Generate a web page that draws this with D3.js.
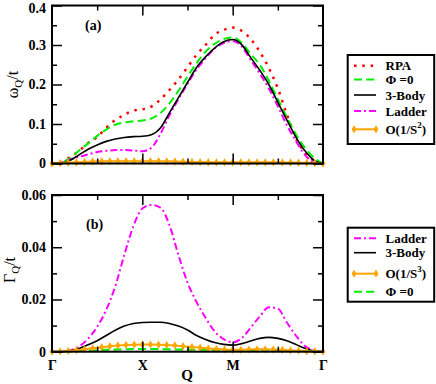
<!DOCTYPE html>
<html>
<head>
<meta charset="utf-8">
<script src="https://cdn.jsdelivr.net/npm/d3@7"></script>
<style>
  body { margin: 0; background: #fff; }
  svg text { font-family: "Liberation Serif", "Times New Roman", Times, serif; }
</style>
</head>
<body>
<div id="plot"></div>
<script>
// ---- data ----
const qGrid = [0, 0.1, 0.2, 0.3, 0.4, 0.5, 0.6, 0.7, 0.8, 0.9, 1.0, 1.1, 1.2, 1.3, 1.4, 1.5,
  1.6, 1.7, 1.8, 1.9, 2.0, 2.1, 2.2, 2.3, 2.4, 2.5, 2.6, 2.7, 2.8, 2.9, 3.0];
const qMarks = [0, 0.09, 0.18, 0.27, 0.36, 0.45, 0.55, 0.64, 0.73, 0.82, 0.91, 1.0, 1.09, 1.18,
  1.27, 1.36, 1.45, 1.55, 1.64, 1.73, 1.82, 1.91, 2.0, 2.09, 2.18, 2.27, 2.36, 2.45, 2.55, 2.64,
  2.73, 2.82, 2.91, 3.0];

// panel (a): omega_Q / t
const rpaA = [0, 0.003, 0.016, 0.032, 0.052, 0.067, 0.090, 0.110, 0.123, 0.134, 0.137, 0.144,
  0.162, 0.186, 0.213, 0.244, 0.275, 0.300, 0.326, 0.338, 0.344, 0.336, 0.315, 0.283, 0.242,
  0.190, 0.124, 0.064, 0.028, 0.008, 0];
const phiA = [0, 0.002, 0.014, 0.033, 0.051, 0.070, 0.086, 0.098, 0.104, 0.107, 0.109, 0.114,
  0.128, 0.152, 0.184, 0.220, 0.254, 0.283, 0.303, 0.315, 0.319, 0.306, 0.277, 0.250, 0.210,
  0.163, 0.117, 0.074, 0.040, 0.015, 0];
const bodyA = [0, 0.000, 0.008, 0.022, 0.036, 0.047, 0.056, 0.062, 0.066, 0.068, 0.069, 0.073,
  0.090, 0.128, 0.167, 0.205, 0.243, 0.270, 0.292, 0.308, 0.314, 0.301, 0.268, 0.236, 0.200,
  0.155, 0.110, 0.067, 0.032, 0.008, 0];
const ladderA = [0, 0.002, 0.010, 0.017, 0.023, 0.029, 0.032, 0.034, 0.034, 0.033, 0.031, 0.040,
  0.075, 0.122, 0.163, 0.202, 0.238, 0.266, 0.291, 0.305, 0.310, 0.296, 0.262, 0.228, 0.190,
  0.145, 0.097, 0.057, 0.022, 0.003, 0];
const s2A = [0, 0.001, 0.002, 0.003, 0.004, 0.005, 0.0055, 0.006, 0.006, 0.006, 0.006, 0.006,
  0.006, 0.0058, 0.0055, 0.005, 0.0045, 0.004, 0.0035, 0.0032, 0.003, 0.003, 0.003, 0.003,
  0.003, 0.003, 0.003, 0.003, 0.0028, 0.0025, 0.002, 0.0015, 0.0008, 0];

// panel (b): Gamma_Q / t
const ladderB = [0, 0, 0.0005, 0.002, 0.005, 0.0095, 0.016, 0.025, 0.037, 0.048, 0.0548, 0.0562,
  0.0552, 0.0485, 0.037, 0.0265, 0.019, 0.013, 0.0078, 0.0048, 0.0036, 0.0052, 0.0092, 0.0135,
  0.0170, 0.0165, 0.0112, 0.0062, 0.0022, 0.0005, 0];
const bodyB = [0, 0, 0.0003, 0.0012, 0.0027, 0.0042, 0.0062, 0.0082, 0.0098, 0.0108, 0.0112,
  0.0113, 0.0113, 0.0108, 0.0098, 0.0083, 0.0062, 0.0047, 0.0035, 0.0028, 0.0025, 0.0031,
  0.0041, 0.0051, 0.0055, 0.0051, 0.0042, 0.0028, 0.0013, 0.0003, 0];
const phiB = [0, 0, 0.0001, 0.0002, 0.0004, 0.0006, 0.0007, 0.0008, 0.0009, 0.001, 0.001, 0.001,
  0.001, 0.0009, 0.0008, 0.0008, 0.0007, 0.0007, 0.0006, 0.0006, 0.0006, 0.0006, 0.0006,
  0.0006, 0.0006, 0.0005, 0.0004, 0.0003, 0.0002, 0.0001, 0];
const s3B = [0, 0.0001, 0.0003, 0.0006, 0.0009, 0.0013, 0.0017, 0.0021, 0.0024, 0.0026, 0.0027,
  0.0028, 0.0028, 0.0027, 0.0026, 0.0024, 0.0021, 0.0018, 0.0015, 0.0012, 0.001, 0.0008,
  0.0007, 0.0007, 0.0008, 0.0009, 0.0009, 0.0008, 0.0007, 0.0005, 0.0004, 0.0002, 0.0001, 0];

// axis ticks and labels
const xMajor = [0, 1, 2, 3];
const xMinor = [0.5, 1.5, 2.5];
const xLabels = ["\u0393", "X", "M", "\u0393"];
const yTicksA = [0, 0.1, 0.2, 0.3, 0.4];
const yMinorA = [0.05, 0.15, 0.25, 0.35];
const yTicksB = [0, 0.02, 0.04, 0.06];
const yMinorB = [0.01, 0.03, 0.05];

// ---- styles ----
const serif = "Liberation Serif, Times New Roman, Times, serif";
const styles = {
  rpa:    { color: "#ff0000", width: 2.5, dash: "2.5,5.8" },
  phi:    { color: "#00ee00", width: 2, dash: "8,4.3" },
  body:   { color: "#000000", width: 1.6, dash: null },
  ladder: { color: "#ff00ff", width: 2, dash: "7,3,2,3" },
  s:      { color: "#ffa500", width: 2, dash: null }
};

const width = 436, height = 384;
const svg = d3.select("#plot").append("svg")
  .attr("width", width)
  .attr("height", height)
  .attr("font-family", serif);

const x = d3.scaleLinear().domain([0, 3]).range([52, 323]);
const yA = d3.scaleLinear().domain([0, 0.4]).range([163.5, 5.5]);
const yB = d3.scaleLinear().domain([0, 0.06]).range([351.7, 195]);

function drawFrame(y, majors, minors, showX) {
  const [y0, y1] = y.range();
  const g = svg.append("g");
  const fmt = d => d === 0 ? "0" : String(d);

  // bottom
  g.append("g").attr("transform", `translate(0,${y0})`)
    .call(d3.axisBottom(x).tickValues([1, 2]).tickSizeInner(-10).tickSizeOuter(0).tickFormat(""));
  g.append("g").attr("transform", `translate(0,${y0})`)
    .call(d3.axisBottom(x).tickValues(xMinor).tickSizeInner(-5).tickSizeOuter(0).tickFormat(""));
  // top
  g.append("g").attr("transform", `translate(0,${y1})`)
    .call(d3.axisTop(x).tickValues([1, 2]).tickSizeInner(-10).tickSizeOuter(0).tickFormat(""));
  g.append("g").attr("transform", `translate(0,${y1})`)
    .call(d3.axisTop(x).tickValues(xMinor).tickSizeInner(-5).tickSizeOuter(0).tickFormat(""));
  // left
  g.append("g").attr("class", "yleft").attr("transform", `translate(${x(0)},0)`)
    .call(d3.axisLeft(y).tickValues(majors).tickSizeInner(-10).tickSizeOuter(0).tickPadding(6).tickFormat(fmt));
  g.append("g").attr("transform", `translate(${x(0)},0)`)
    .call(d3.axisLeft(y).tickValues(minors).tickSizeInner(-5).tickSizeOuter(0).tickFormat(""));
  // right
  g.append("g").attr("transform", `translate(${x(3)},0)`)
    .call(d3.axisRight(y).tickValues(majors).tickSizeInner(-10).tickSizeOuter(0).tickFormat(""));
  g.append("g").attr("transform", `translate(${x(3)},0)`)
    .call(d3.axisRight(y).tickValues(minors).tickSizeInner(-5).tickSizeOuter(0).tickFormat(""));

  if (showX) {
    g.append("g").attr("transform", `translate(0,${y0})`)
      .call(d3.axisBottom(x).tickValues(xMajor).tickSize(0).tickPadding(8)
        .tickFormat((d, i) => xLabels[i]));
  }

  g.selectAll("g").attr("font-family", serif);
  g.selectAll(".domain").remove();
  g.selectAll(".tick line").attr("stroke", "#000").attr("stroke-width", 1.5);
  g.selectAll(".tick text")
    .attr("fill", "#000")
    .attr("font-family", serif)
    .attr("font-size", 14)
    .attr("font-weight", "bold");
  // keep the top label inside the picture
  g.selectAll(".yleft .tick text")
    .filter(d => d === majors[majors.length - 1] && y(d) < 10)
    .attr("dy", "0.47em");

  g.append("rect")
    .attr("x", x(0)).attr("y", y1)
    .attr("width", x(3) - x(0)).attr("height", y0 - y1)
    .attr("fill", "none").attr("stroke", "#000").attr("stroke-width", 2);
}

function drawSeries(y, qs, vals, st, curve) {
  const line = d3.line()
    .x((d, i) => x(qs[i]))
    .y(d => y(d))
    .curve(curve);
  svg.append("path")
    .datum(vals)
    .attr("fill", "none")
    .attr("stroke", st.color)
    .attr("stroke-width", st.width)
    .attr("stroke-dasharray", st.dash)
    .attr("d", line);
}

function drawMarked(y, vals) {
  drawSeries(y, qMarks, vals, styles.s, d3.curveLinear);
  svg.append("g").selectAll("path")
    .data(vals)
    .join("path")
    .attr("transform", (d, i) => `translate(${x(qMarks[i])},${y(d)})`)
    .attr("d", d3.symbol(d3.symbolDiamond, 20))
    .attr("fill", styles.s.color);
}

// ---- panel (a) ----
drawSeries(yA, qGrid, rpaA, styles.rpa, d3.curveMonotoneX);
drawSeries(yA, qGrid, phiA, styles.phi, d3.curveMonotoneX);
drawSeries(yA, qGrid, ladderA, styles.ladder, d3.curveMonotoneX);
drawSeries(yA, qGrid, bodyA, styles.body, d3.curveMonotoneX);
drawMarked(yA, s2A);
drawFrame(yA, yTicksA, yMinorA, false);

// ---- panel (b) ----
drawSeries(yB, qGrid, ladderB, styles.ladder, d3.curveMonotoneX);
drawSeries(yB, qGrid, bodyB, styles.body, d3.curveMonotoneX);
drawSeries(yB, qGrid, phiB, styles.phi, d3.curveMonotoneX);
drawMarked(yB, s3B);
drawFrame(yB, yTicksB, yMinorB, true);

// panel tags
svg.append("text").attr("x", 85).attr("y", 30).text("(a)")
  .attr("font-size", 14).attr("font-weight", "bold");
svg.append("text").attr("x", 86).attr("y", 229).text("(b)")
  .attr("font-size", 14).attr("font-weight", "bold");

// axis titles
const yt1 = svg.append("text")
  .attr("transform", "translate(18,84.5) rotate(-90)")
  .attr("text-anchor", "middle")
  .attr("font-size", 16);
yt1.append("tspan").text("\u03c9");
yt1.append("tspan").attr("dy", 4).attr("font-size", 11).text("Q");
yt1.append("tspan").attr("dy", -4).text("/t");

const yt2 = svg.append("text")
  .attr("transform", "translate(14.5,270) rotate(-90)")
  .attr("text-anchor", "middle")
  .attr("font-size", 16);
yt2.append("tspan").text("\u0393");
yt2.append("tspan").attr("dy", 4).attr("font-size", 11).text("Q");
yt2.append("tspan").attr("dy", -4).text("/t");

svg.append("text").attr("x", 187).attr("y", 380)
  .attr("text-anchor", "middle")
  .attr("font-size", 15).attr("font-weight", "bold")
  .text("Q");

// ---- legends ----
function drawLegend(box, entries) {
  const g = svg.append("g");
  g.append("rect")
    .attr("x", box.x).attr("y", box.y).attr("width", box.w).attr("height", box.h)
    .attr("fill", "#fff").attr("stroke", "#000").attr("stroke-width", 2);
  entries.forEach(e => {
    const st = styles[e.key];
    g.append("line")
      .attr("x1", 354).attr("x2", 376).attr("y1", e.y).attr("y2", e.y)
      .attr("stroke", st.color).attr("stroke-width", st.width)
      .attr("stroke-dasharray", st.dash);
    if (e.key === "s") {
      [354, 376].forEach(px => g.append("path")
        .attr("transform", `translate(${px},${e.y})`)
        .attr("d", d3.symbol(d3.symbolDiamond, 20))
        .attr("fill", st.color));
    }
    const t = g.append("text").attr("x", 385.5).attr("y", e.y).attr("dy", "0.35em")
      .attr("font-size", 13).attr("font-weight", "bold");
    if (e.sup) {
      t.append("tspan").text(e.label);
      t.append("tspan").attr("dy", -6).attr("font-size", 9).text(e.sup);
      t.append("tspan").attr("dy", 6).text(")");
    } else {
      t.text(e.label);
    }
  });
}

drawLegend({ x: 347.7, y: 55, w: 86.5, h: 89 }, [
  { key: "rpa", label: "RPA", y: 65.7 },
  { key: "phi", label: "\u03a6 =0", y: 79.5 },
  { key: "body", label: "3-Body", y: 95 },
  { key: "ladder", label: "Ladder", y: 111 },
  { key: "s", label: "O(1/S", sup: "2", y: 129.3 }
]);

drawLegend({ x: 347.7, y: 227.7, w: 86.5, h: 74 }, [
  { key: "ladder", label: "Ladder", y: 238.3 },
  { key: "body", label: "3-Body", y: 252.7 },
  { key: "s", label: "O(1/S", sup: "3", y: 273.7 },
  { key: "phi", label: "\u03a6 =0", y: 291.7 }
]);
</script>
</body>
</html>
